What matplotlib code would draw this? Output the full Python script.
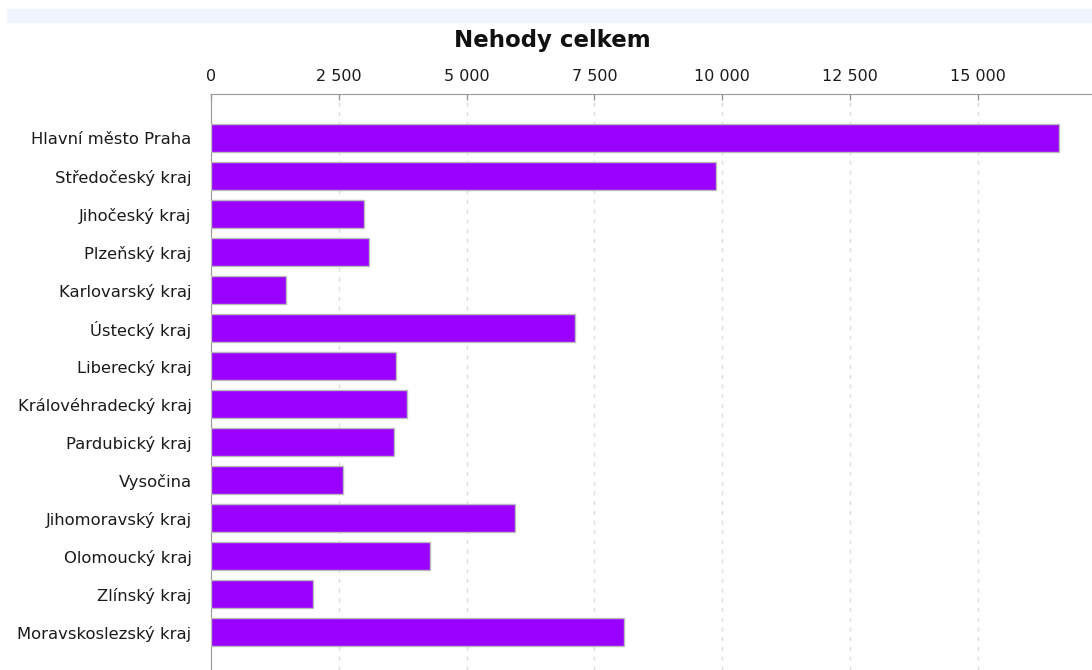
import matplotlib
matplotlib.use("Agg")
import matplotlib.pyplot as plt
from matplotlib.patches import Rectangle
from matplotlib.ticker import FuncFormatter

plt.rcParams["font.family"] = ["DejaVu Sans"]

# data
regions = ["Hlavní město Praha", "Středočeský kraj", "Jihočeský kraj", "Plzeňský kraj",
           "Karlovarský kraj", "Ústecký kraj", "Liberecký kraj", "Královéhradecký kraj",
           "Pardubický kraj", "Vysočina", "Jihomoravský kraj", "Olomoucký kraj",
           "Zlínský kraj", "Moravskoslezský kraj"]
accidents = [16580, 9880, 2990, 3090, 1470, 7120, 3620, 3830, 3580, 2580, 5950, 4280, 2000, 8080]
xticks = [0, 2500, 5000, 7500, 10000, 12500, 15000]

fig = plt.figure(figsize=(10.92, 6.70), dpi=100)

# light band at the top
fig.patches.append(Rectangle((7 / 1092, 1 - 22 / 670), 1, 13 / 670,
                             transform=fig.transFigure, color="#eef5fc", zorder=0))
fig.text(552 / 1092, 1 - 40 / 670, "Nehody celkem", ha="center", va="center",
         fontsize=16.5, fontweight="bold", color="#111111")

ax = fig.add_axes([211 / 1092, 0, 1 - 211 / 1092, 1 - 94 / 670])
ypos = list(range(len(regions)))
ax.barh(ypos, accidents, height=0.74, color="#9900ff", edgecolor="#bbbbbb", linewidth=1, zorder=3)

ax.set_xlim(0, 17230)
ax.set_ylim(14.0, -1.16)
ax.set_xticks(xticks)
ax.xaxis.set_major_formatter(FuncFormatter(lambda v, p: f"{v:,.0f}".replace(",", " ")))
ax.xaxis.tick_top()
ax.tick_params(axis="x", direction="in", length=4, width=1, color="#999999", pad=7,
               labelsize=11.5, labelcolor="#1a1a1a")
ax.set_yticks(ypos)
ax.set_yticklabels(regions)
ax.tick_params(axis="y", length=0, pad=14, labelsize=11.8, labelcolor="#1a1a1a")
ax.grid(axis="x", linestyle=(0, (3, 4)), color="#dddddd", linewidth=1, zorder=0)

for side in ["right", "bottom"]:
    ax.spines[side].set_visible(False)
ax.spines["top"].set_color("#999999")
ax.spines["left"].set_color("#999999")

fig.savefig("out.png", dpi=100)
